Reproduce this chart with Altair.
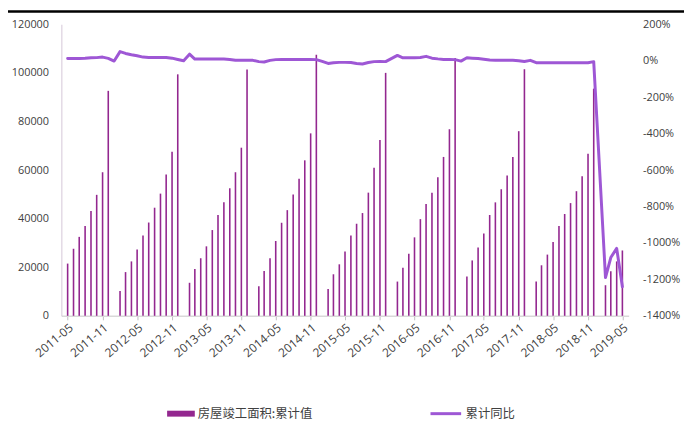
import altair as alt
import pandas as pd

# ---- data ----
months = pd.date_range("2011-05-01", "2019-05-01", freq="MS").strftime("%Y-%m-%d").tolist()

area_2011 = [21500, 27600, 32500, 37000, 43100, 49800, 59100, 92600]  # May-Dec
area_2012 = [None, 10200, 18000, 22400, 27300, 33100, 38400, 44500, 50300, 58200, 67500, 99400]
area_2013 = [None, 13600, 19300, 23700, 28600, 35300, 41500, 46700, 52500, 59100, 69200, 101400]
area_2014 = [None, 12200, 18500, 23700, 30800, 38300, 43500, 49900, 56400, 64000, 75100, 107500]
area_2015 = [None, 11000, 17100, 21200, 26500, 33100, 37900, 42300, 50700, 60900, 72400, 100000]
area_2016 = [None, 14100, 19800, 25600, 32300, 39800, 46000, 50700, 57000, 65400, 76800, 106100]
area_2017 = [None, 16200, 22800, 28100, 33900, 41500, 46700, 52100, 57800, 65400, 76000, 101500]
area_2018 = [None, 14100, 20800, 25200, 30400, 37000, 41900, 46400, 51300, 57400, 66700, 93500]
area_2019 = [None, 12600, 18300, 22400, 26900]  # Jan-May

yoy_2011 = [0.12, 0.12, 0.12, 0.13, 0.16, 0.17, 0.20, 0.13]
yoy_2012 = [-0.02, 0.50, 0.40, 0.33, 0.27, 0.20, 0.18, 0.18, 0.18, 0.18, 0.14, 0.07]
yoy_2013 = [0.00, 0.36, 0.09, 0.09, 0.09, 0.09, 0.09, 0.09, 0.07, 0.03, 0.02, 0.02]
yoy_2014 = [0.02, -0.05, -0.07, 0.02, 0.06, 0.07, 0.07, 0.07, 0.07, 0.07, 0.07, 0.06]
yoy_2015 = [-0.04, -0.15, -0.11, -0.09, -0.09, -0.10, -0.15, -0.18, -0.10, -0.05, -0.04, -0.05]
yoy_2016 = [None, 0.29, 0.16, 0.16, 0.16, 0.18, 0.24, 0.14, 0.10, 0.07, 0.07, 0.06]
yoy_2017 = [-0.02, 0.16, 0.14, 0.12, 0.08, 0.04, 0.03, 0.03, 0.03, 0.02, 0.00, -0.04]
yoy_2018 = [0.02, -0.11, -0.11, -0.11, -0.11, -0.11, -0.11, -0.11, -0.11, -0.11, -0.11, -0.05]
yoy_2019 = [None, -11.9, -10.8, -10.3, -12.4]

area = area_2011 + area_2012 + area_2013 + area_2014 + area_2015 + area_2016 + area_2017 + area_2018 + area_2019
yoy = yoy_2011 + yoy_2012 + yoy_2013 + yoy_2014 + yoy_2015 + yoy_2016 + yoy_2017 + yoy_2018 + yoy_2019

left_ticks = [0, 20000, 40000, 60000, 80000, 100000, 120000]
right_ticks = [-14, -12, -10, -8, -6, -4, -2, 0, 2]
x_tick_dates = [(y, m) for y in range(2011, 2020) for m in (5, 11) if (y, m) <= (2019, 5)]

bar_name = "房屋竣工面积:累计值"
line_name = "累计同比"

df = pd.DataFrame({"month": months, "area": area, "yoy": yoy})
df["s1"] = bar_name
df["s2"] = line_name
bars_df = df.dropna(subset=["area"])
line_df = df.dropna(subset=["yoy"])

FONT = "Open Sans"
CJK = "Noto Sans CJK SC"
TXT = "#404040"

x_enc = alt.X(
    "month:T",
    scale=alt.Scale(domain=[alt.DateTime(year=2011, month=4, date=24),
                            alt.DateTime(year=2019, month=5, date=8)]),
    axis=alt.Axis(
        values=[alt.DateTime(year=y, month=m, date=1) for y, m in x_tick_dates],
        format="%Y-%m", labelAngle=-40, labelOverlap=False, title=None, grid=False,
        domainColor="#D9D9D9", domainWidth=1.5, tickColor="#BFBFBF", tickSize=4,
        labelFont=FONT, labelFontSize=12, labelColor=TXT, labelPadding=2,
    ),
)

bars = alt.Chart(bars_df).mark_bar(size=1.6).encode(
    x=x_enc,
    y=alt.Y("area:Q", scale=alt.Scale(domain=[0, 120000]),
            axis=alt.Axis(values=left_ticks, format="d", grid=False, ticks=False,
                          domainColor="#D5C6D8", labelPadding=13, title=None,
                          labelFont=FONT, labelFontSize=11, labelColor=TXT)),
    color=alt.Color("s1:N", scale=alt.Scale(range=["#93278F"]),
                    legend=alt.Legend(title=None, orient="none", legendX=107, legendY=380,
                                      symbolType="M-1,-0.214H1V0.214H-1Z", symbolSize=784,
                                      symbolStrokeWidth=0, labelFont=CJK, labelFontSize=12.5,
                                      labelColor=TXT, labelOffset=3)),
)

line = alt.Chart(line_df).mark_line(strokeWidth=3, strokeJoin="round", strokeCap="round").encode(
    x=x_enc,
    y=alt.Y("yoy:Q", scale=alt.Scale(domain=[-14, 2]),
            axis=alt.Axis(orient="right", values=right_ticks,
                          labelExpr="round(datum.value*100) + '%'",
                          grid=False, ticks=False, domain=False, labelPadding=14, title=None,
                          labelFont=FONT, labelFontSize=11, labelColor=TXT)),
    stroke=alt.Stroke("s2:N", scale=alt.Scale(range=["#9E57D5"]),
                      legend=alt.Legend(title=None, orient="none", legendX=372, legendY=377,
                                        symbolType="stroke", symbolSize=961, symbolStrokeWidth=3,
                                        labelFont=CJK, labelFontSize=12.5, labelColor=TXT,
                                        labelOffset=3)),
)

top_rule = alt.Chart(pd.DataFrame({"a": [0]})).mark_rule(color="black", strokeWidth=2.5).encode(
    x=alt.value(-54), x2=alt.value(630), y=alt.value(-13)
)

chart = alt.layer(bars, line, top_rule).resolve_scale(
    y="independent", color="independent", stroke="independent"
).properties(
    width=574, height=295,
    autosize=alt.AutoSizeParams(type="none"),
    padding={"left": 54, "top": 14, "right": 56, "bottom": 108},
).configure_view(stroke=None)

chart.save("out.html", embed_options={"renderer": "svg", "actions": False})
